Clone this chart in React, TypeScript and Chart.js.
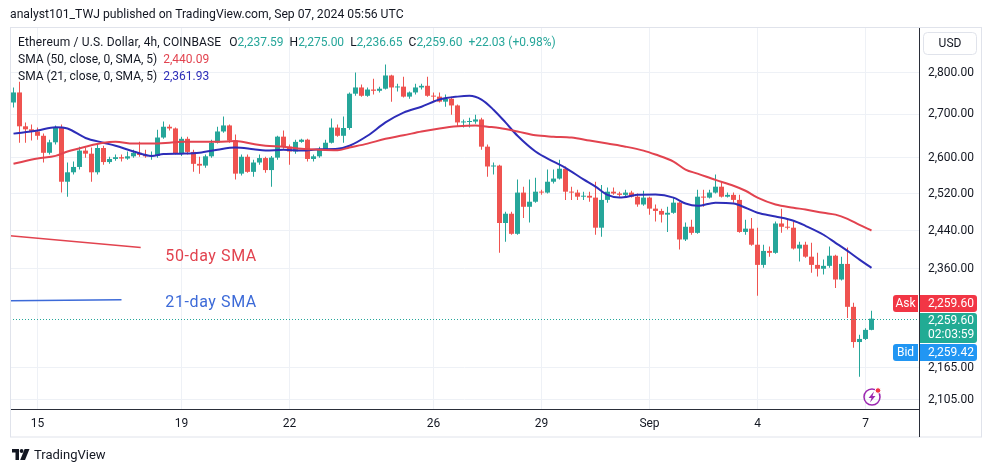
import React, { useEffect, useRef } from "react";
import { Chart, registerables } from "chart.js";

Chart.register(...registerables);

const FONT = "Roboto, 'Liberation Sans', Arial, sans-serif";
const TEXT = "#131722";
const UP = "#26a69a";
const DOWN = "#ef5350";
const SMA50_COLOR = "#e2434f";
const SMA21_COLOR = "#2d2db8";
const NOTE_RED = "#e2434f";
const NOTE_BLUE = "#3c6ad8";
const GRID = "#eef1f6";
const AXIS = "#2a2e39";
const PANEL = "#e0e3eb";

// ---- 4h candles, ETH/USD, Aug 14 08:00 .. Sep 7 04:00 (index = candle number)
const open = [
  2728, 2752, 2672, 2665, 2660, 2650, 2611, 2635, 2670, 2546,
  2567, 2579, 2616, 2609, 2567, 2622, 2590, 2597, 2601, 2598,
  2603, 2611, 2606, 2603, 2604, 2646, 2671, 2667, 2610, 2643,
  2613, 2586, 2582, 2603, 2634, 2660, 2674, 2639, 2564, 2602,
  2568, 2589, 2599, 2572, 2600, 2648, 2625, 2614, 2636, 2641,
  2597, 2603, 2619, 2634, 2669, 2650, 2668, 2749, 2764, 2744,
  2759, 2756, 2761, 2793, 2764, 2766, 2742, 2752, 2764, 2768,
  2744, 2742, 2730, 2737, 2721, 2681, 2682, 2683, 2688, 2625,
  2580, 2582, 2456, 2476, 2433, 2522, 2491, 2502, 2524, 2522,
  2546, 2553, 2575, 2524, 2522, 2513, 2515, 2511, 2446, 2506,
  2524, 2520, 2517, 2522, 2513, 2496, 2511, 2487, 2482, 2474,
  2478, 2500, 2421, 2448, 2435, 2513, 2511, 2522, 2535, 2513,
  2517, 2506, 2437, 2444, 2410, 2368, 2397, 2393, 2455, 2448,
  2446, 2402, 2410, 2385, 2368, 2360, 2366, 2387, 2338, 2370,
  2283, 2214, 2220, 2237.59,
];
const high = [
  2764, 2778, 2681, 2676, 2669, 2655, 2641, 2674, 2676, 2589,
  2591, 2625, 2623, 2623, 2630, 2627, 2602, 2607, 2607, 2614,
  2618, 2636, 2618, 2614, 2664, 2683, 2676, 2669, 2648, 2648,
  2618, 2602, 2607, 2641, 2671, 2695, 2676, 2653, 2607, 2607,
  2595, 2607, 2602, 2604, 2650, 2662, 2630, 2641, 2643, 2643,
  2607, 2625, 2641, 2690, 2676, 2695, 2752, 2800, 2771, 2764,
  2785, 2766, 2820, 2795, 2773, 2790, 2754, 2773, 2773, 2790,
  2752, 2752, 2747, 2742, 2723, 2688, 2692, 2699, 2692, 2630,
  2589, 2584, 2480, 2480, 2551, 2535, 2551, 2555, 2528, 2573,
  2573, 2595, 2580, 2535, 2528, 2524, 2524, 2546, 2539, 2533,
  2533, 2524, 2528, 2526, 2520, 2526, 2513, 2496, 2487, 2491,
  2511, 2502, 2457, 2463, 2528, 2528, 2528, 2562, 2546, 2522,
  2522, 2517, 2463, 2467, 2446, 2410, 2406, 2459, 2487, 2467,
  2459, 2416, 2416, 2414, 2393, 2379, 2406, 2389, 2385, 2404,
  2291, 2228, 2241, 2275,
];
const low = [
  2716, 2634, 2634, 2639, 2641, 2589, 2607, 2630, 2522, 2513,
  2562, 2573, 2600, 2546, 2562, 2584, 2586, 2593, 2591, 2595,
  2600, 2602, 2600, 2595, 2600, 2643, 2662, 2607, 2604, 2607,
  2568, 2564, 2577, 2600, 2632, 2657, 2634, 2551, 2560, 2566,
  2557, 2584, 2566, 2535, 2595, 2620, 2584, 2609, 2634, 2591,
  2591, 2600, 2616, 2632, 2648, 2634, 2664, 2744, 2742, 2742,
  2747, 2752, 2759, 2730, 2754, 2740, 2737, 2747, 2759, 2742,
  2730, 2728, 2718, 2699, 2671, 2669, 2669, 2678, 2618, 2557,
  2562, 2393, 2416, 2431, 2431, 2467, 2457, 2500, 2517, 2520,
  2542, 2551, 2506, 2506, 2506, 2506, 2502, 2431, 2427, 2500,
  2517, 2513, 2511, 2511, 2491, 2493, 2474, 2459, 2457, 2437,
  2476, 2400, 2418, 2431, 2433, 2491, 2509, 2520, 2511, 2511,
  2500, 2435, 2431, 2408, 2305, 2362, 2385, 2391, 2435, 2442,
  2400, 2375, 2383, 2352, 2344, 2348, 2362, 2321, 2336, 2261,
  2203, 2148, 2218, 2236.65,
];
const close = [
  2752, 2672, 2665, 2660, 2650, 2611, 2635, 2670, 2546, 2567,
  2579, 2616, 2609, 2567, 2622, 2590, 2597, 2601, 2598, 2603,
  2611, 2606, 2603, 2604, 2646, 2671, 2667, 2610, 2643, 2613,
  2586, 2582, 2603, 2634, 2660, 2674, 2639, 2564, 2602, 2568,
  2589, 2599, 2572, 2600, 2648, 2625, 2614, 2636, 2641, 2597,
  2603, 2619, 2634, 2669, 2650, 2668, 2749, 2764, 2744, 2759,
  2756, 2761, 2793, 2764, 2766, 2742, 2752, 2764, 2768, 2744,
  2742, 2730, 2737, 2721, 2681, 2682, 2683, 2688, 2625, 2580,
  2582, 2456, 2476, 2433, 2522, 2491, 2502, 2524, 2522, 2546,
  2553, 2575, 2524, 2522, 2513, 2515, 2511, 2446, 2506, 2524,
  2520, 2517, 2522, 2513, 2496, 2511, 2487, 2482, 2474, 2478,
  2500, 2421, 2448, 2435, 2513, 2511, 2522, 2535, 2513, 2517,
  2506, 2437, 2444, 2410, 2368, 2397, 2393, 2455, 2448, 2446,
  2402, 2410, 2385, 2368, 2360, 2366, 2387, 2338, 2370, 2283,
  2214, 2220, 2237.59, 2259.6,
];

// ---- moving averages (candle index, price)
const sma50Idx = [0, 4, 7, 9, 12, 15, 17, 20, 23, 26, 28, 31, 34, 37, 40, 42, 45, 48, 51, 54, 56, 59, 62, 65, 68, 71, 74, 77, 79, 81, 84, 87, 90, 93, 96, 99, 102, 105, 107, 110, 112, 114, 117, 120, 122, 124, 127, 130, 132, 135, 137, 139, 141, 143];
const sma50Val = [2586, 2598, 2604, 2614, 2625, 2634, 2636, 2632, 2632, 2634, 2636, 2636, 2636, 2638, 2631, 2627, 2625, 2620, 2618, 2617, 2623, 2632, 2643, 2651, 2660, 2667, 2672, 2674, 2671, 2668, 2660, 2651, 2648, 2646, 2639, 2632, 2625, 2616, 2607, 2591, 2573, 2564, 2550, 2537, 2526, 2511, 2496, 2489, 2485, 2478, 2474, 2465, 2452, 2440.09];
const sma21Idx = [0, 4, 7, 9, 12, 15, 17, 20, 23, 25, 28, 31, 34, 37, 40, 42, 45, 48, 51, 54, 56, 59, 62, 65, 68, 71, 74, 76, 78, 80, 82, 84, 87, 90, 92, 95, 97, 99, 101, 104, 107, 110, 112, 114, 117, 120, 122, 124, 127, 130, 132, 135, 137, 139, 141, 143];
const sma21Val = [2655, 2662, 2670, 2667, 2645, 2634, 2627, 2614, 2604, 2608, 2609, 2611, 2618, 2623, 2619, 2616, 2618, 2616, 2619, 2620, 2627, 2650, 2681, 2704, 2718, 2735, 2742, 2744, 2735, 2711, 2681, 2650, 2614, 2591, 2577, 2551, 2535, 2517, 2511, 2517, 2518, 2511, 2498, 2493, 2500, 2498, 2489, 2478, 2470, 2461, 2450, 2431, 2414, 2397, 2379, 2361.93];

// ---- hand-drawn annotations (candle index, price)
const note50X = [-0.6, 21.2];
const note50Y = [2429, 2404];
const note21X = [-0.6, 18];
const note21Y = [2295, 2297];
const noteLabels = ["50-day SMA", "21-day SMA"];
const noteLabelX = [25.3, 25.3];
const noteLabelY = [2385, 2291];

// ---- axes
const yTicks = [2105, 2165, 2360, 2440, 2520, 2600, 2700, 2800];
const xTickIdx = [4, 28, 46, 70, 88, 106, 124, 142];
const xTickLabels = ["15", "19", "22", "26", "29", "Sep", "4", "7"];

// ---- quote box
const askPrice = 2259.6;
const bidPrice = 2259.42;
const countdown = "02:03:59";
const changeText = "+22.03 (+0.98%)";

const X_MIN = -0.5833;
const X_MAX = 150.9167;
const Y_MIN = 2088.5;
const Y_MAX = 2911;

const fmt = (v: number) =>
  v.toLocaleString("en-US", { minimumFractionDigits: 2, maximumFractionDigits: 2 });

const candleColors = close.map((c, i) => (c >= open[i] ? UP : DOWN));

const overlayPlugin = {
  id: "tvOverlay",
  afterDatasetsDraw(chart: any) {
    const { ctx, chartArea, scales } = chart;
    const x = scales.x;
    const y = scales.y;
    ctx.save();
    // last price dotted line
    const py = Math.round(y.getPixelForValue(close[close.length - 1])) + 0.5;
    ctx.strokeStyle = UP;
    ctx.lineWidth = 1;
    ctx.setLineDash([1, 2]);
    ctx.beginPath();
    ctx.moveTo(chartArea.left, py);
    ctx.lineTo(chartArea.right, py);
    ctx.stroke();
    ctx.setLineDash([]);
    // annotation labels
    ctx.font = `16px ${FONT}`;
    try {
      (ctx as any).letterSpacing = "0.6px";
    } catch (e) {}
    ctx.textBaseline = "middle";
    ctx.textAlign = "left";
    noteLabels.forEach((t, i) => {
      ctx.fillStyle = i === 0 ? NOTE_RED : NOTE_BLUE;
      ctx.fillText(t, x.getPixelForValue(noteLabelX[i]), y.getPixelForValue(noteLabelY[i]));
    });
    try {
      (ctx as any).letterSpacing = "0px";
    } catch (e) {}
    ctx.restore();
  },
  afterDraw(chart: any) {
    const { ctx, chartArea, scales } = chart;
    const x = scales.x;
    const y = scales.y;
    const axL = y.left;
    const xb = x.bottom;
    ctx.save();
    // panel frame
    ctx.strokeStyle = PANEL;
    ctx.lineWidth = 1;
    ctx.strokeRect(chartArea.left + 0.5, chartArea.top - 0.5, 971, xb - chartArea.top + 0.5);
    // axis line extension
    ctx.strokeStyle = AXIS;
    ctx.beginPath();
    ctx.moveTo(axL + 0.5, chartArea.bottom);
    ctx.lineTo(axL + 0.5, xb);
    ctx.stroke();
    // USD box
    ctx.fillStyle = "#fff";
    ctx.strokeStyle = PANEL;
    ctx.beginPath();
    ctx.roundRect(axL + 4.5, chartArea.top + 4.5, 53, 22, 4);
    ctx.fill();
    ctx.stroke();
    ctx.fillStyle = TEXT;
    ctx.font = `12px ${FONT}`;
    ctx.textAlign = "center";
    ctx.textBaseline = "middle";
    ctx.fillText("USD", axL + 31, chartArea.top + 16);

    // price labels
    const py = Math.round(y.getPixelForValue(close[close.length - 1]));
    const gTop = py - 6;
    const boxL = axL + 1;
    const boxW = 57;
    ctx.fillStyle = "#f23645";
    ctx.beginPath();
    ctx.roundRect(axL - 26, gTop - 18, 25, 17, [3, 0, 0, 3]);
    ctx.fill();
    ctx.beginPath();
    ctx.roundRect(boxL, gTop - 18, boxW, 17, [0, 3, 3, 0]);
    ctx.fill();
    ctx.fillStyle = "#22ab94";
    ctx.beginPath();
    ctx.roundRect(boxL, gTop, boxW, 30, [0, 3, 3, 0]);
    ctx.fill();
    ctx.fillStyle = "#2196f3";
    ctx.beginPath();
    ctx.roundRect(axL - 26, gTop + 31, 25, 17, [3, 0, 0, 3]);
    ctx.fill();
    ctx.beginPath();
    ctx.roundRect(boxL, gTop + 31, boxW, 17, [0, 3, 3, 0]);
    ctx.fill();

    ctx.fillStyle = "#fff";
    ctx.font = `12px ${FONT}`;
    ctx.textAlign = "center";
    ctx.fillText("Ask", axL - 13.5, gTop - 9.5);
    ctx.fillText("Bid", axL - 13.5, gTop + 39.5);
    ctx.textAlign = "left";
    const tx = axL + 9;
    ctx.fillText(fmt(askPrice), tx, gTop - 9.5);
    ctx.fillText(fmt(close[close.length - 1]), tx, gTop + 8);
    ctx.fillText(countdown, tx, gTop + 22);
    ctx.fillText(fmt(bidPrice), tx, gTop + 39.5);

    // lightning badge
    const cx = Math.round(x.getPixelForValue(close.length - 1)) + 1;
    const cy = chartArea.bottom - 12;
    ctx.strokeStyle = "#9c27b0";
    ctx.lineWidth = 1.5;
    ctx.beginPath();
    ctx.arc(cx, cy, 8, 0, Math.PI * 2);
    ctx.stroke();
    ctx.fillStyle = "#9c27b0";
    ctx.beginPath();
    ctx.moveTo(cx + 2, cy - 5.5);
    ctx.lineTo(cx - 3.5, cy + 1);
    ctx.lineTo(cx - 0.5, cy + 1);
    ctx.lineTo(cx - 2, cy + 5.5);
    ctx.lineTo(cx + 3.5, cy - 1);
    ctx.lineTo(cx + 0.5, cy - 1);
    ctx.closePath();
    ctx.fill();
    ctx.fillStyle = "#f23645";
    ctx.strokeStyle = "#fff";
    ctx.lineWidth = 1;
    ctx.beginPath();
    ctx.arc(cx + 6, cy - 6.5, 2.8, 0, Math.PI * 2);
    ctx.fill();
    ctx.stroke();
    ctx.restore();
  },
};

export default function App() {
  const ref = useRef<HTMLCanvasElement>(null);

  useEffect(() => {
    const canvas = ref.current;
    if (!canvas) return;
    Chart.defaults.font.family = FONT;
    const chart = new Chart(canvas, {
      type: "bar",
      data: {
        datasets: [
          {
            type: "line",
            label: "SMA 50",
            data: sma50Idx.map((v, i) => ({ x: v, y: sma50Val[i] })),
            borderColor: SMA50_COLOR,
            borderWidth: 2,
            pointRadius: 0,
            cubicInterpolationMode: "monotone",
            order: 0,
          } as any,
          {
            type: "line",
            label: "SMA 21",
            data: sma21Idx.map((v, i) => ({ x: v, y: sma21Val[i] })),
            borderColor: SMA21_COLOR,
            borderWidth: 2,
            pointRadius: 0,
            cubicInterpolationMode: "monotone",
            order: 0,
          } as any,
          {
            type: "line",
            label: "50-day note",
            data: note50X.map((v, i) => ({ x: v, y: note50Y[i] })),
            borderColor: NOTE_RED,
            borderWidth: 1.5,
            pointRadius: 0,
            order: 0,
          } as any,
          {
            type: "line",
            label: "21-day note",
            data: note21X.map((v, i) => ({ x: v, y: note21Y[i] })),
            borderColor: NOTE_BLUE,
            borderWidth: 1.5,
            pointRadius: 0,
            order: 0,
          } as any,
          {
            type: "bar",
            label: "body",
            data: open.map((o, i) => ({ x: i, y: [o, close[i]] })),
            backgroundColor: candleColors,
            barThickness: 5,
            minBarLength: 1,
            grouped: false,
            inflateAmount: 0,
            order: 1,
          } as any,
          {
            type: "bar",
            label: "wick",
            data: low.map((l, i) => ({ x: i, y: [l, high[i]] })),
            backgroundColor: candleColors,
            barThickness: 1,
            grouped: false,
            inflateAmount: 0,
            order: 2,
          } as any,
        ],
      },
      options: {
        animation: false,
        responsive: false,
        devicePixelRatio: 1,
        layout: { padding: { left: 10, top: 28, right: 16, bottom: 35 } },
        plugins: { legend: { display: false }, tooltip: { enabled: false } },
        scales: {
          x: {
            type: "linear",
            min: X_MIN,
            max: X_MAX,
            offset: false,
            afterBuildTicks: (s: any) => {
              s.ticks = xTickIdx.map((v) => ({ value: v }));
            },
            afterFit: (s: any) => {
              s.height = 28;
            },
            ticks: {
              autoSkip: false,
              maxRotation: 0,
              padding: 8,
              color: TEXT,
              font: { family: FONT, size: 12 },
              callback: (v: any) => {
                const k = xTickIdx.indexOf(Number(v));
                return k >= 0 ? xTickLabels[k] : "";
              },
            },
            grid: { color: GRID, drawTicks: false, offset: false },
            border: { color: AXIS },
          },
          y: {
            type: "logarithmic",
            position: "right",
            min: Y_MIN,
            max: Y_MAX,
            afterBuildTicks: (s: any) => {
              s.ticks = yTicks.map((v) => ({ value: v }));
            },
            afterFit: (s: any) => {
              s.width = 56;
            },
            ticks: {
              padding: 9,
              color: TEXT,
              font: { family: FONT, size: 12 },
              callback: (v: any) => fmt(Number(v)),
            },
            grid: { color: GRID, drawTicks: false },
            border: { color: AXIS },
          },
        },
      } as any,
      plugins: [overlayPlugin],
    });
    return () => chart.destroy();
  }, []);

  const last = close.length - 1;
  const green = { color: UP };
  const lbl = { marginLeft: 6 };

  return (
    <div
      style={{
        position: "fixed",
        left: 0,
        top: 0,
        width: 991,
        height: 472,
        background: "#fff",
        overflow: "hidden",
        fontFamily: FONT,
        color: TEXT,
      }}
    >
      <canvas
        ref={ref}
        width={991}
        height={472}
        style={{ position: "absolute", left: 0, top: 0, width: 991, height: 472 }}
      />
      <div style={{ position: "absolute", left: 10, top: 7, fontSize: 12.2, whiteSpace: "nowrap" }}>
        analyst101_TWJ published on TradingView.com, Sep 07, 2024 05:56 UTC
      </div>
      <div
        style={{
          position: "absolute",
          left: 18,
          top: 34,
          fontSize: 12,
          lineHeight: "17px",
          whiteSpace: "nowrap",
        }}
      >
        <div>
          <span style={{ letterSpacing: "0.15px" }}>Ethereum / U.S. Dollar, 4h, COINBASE</span>
          <span style={{ marginLeft: 8 }}>O</span>
          <span style={green}>{fmt(open[last])}</span>
          <span style={lbl}>H</span>
          <span style={green}>{fmt(high[last])}</span>
          <span style={lbl}>L</span>
          <span style={green}>{fmt(low[last])}</span>
          <span style={lbl}>C</span>
          <span style={green}>{fmt(close[last])}</span>
          <span style={{ ...green, marginLeft: 6 }}>{changeText}</span>
        </div>
        <div>
          SMA (50, close, 0, SMA, 5)
          <span style={{ color: SMA50_COLOR, marginLeft: 6 }}>{fmt(sma50Val[sma50Val.length - 1])}</span>
        </div>
        <div>
          SMA (21, close, 0, SMA, 5)
          <span style={{ color: SMA21_COLOR, marginLeft: 6 }}>{fmt(sma21Val[sma21Val.length - 1])}</span>
        </div>
      </div>
      <div
        style={{
          position: "absolute",
          left: 12,
          top: 447,
          display: "flex",
          alignItems: "center",
          gap: 4,
          fontSize: 13,
          color: TEXT,
        }}
      >
        <svg width="18" height="12" viewBox="0 0 18 12">
          <path d="M0 0 H7 V11 H3.5 V3.5 H0 Z" fill={TEXT} />
          <circle cx="9.6" cy="2" r="1.9" fill={TEXT} />
          <path d="M12.6 0 H17.5 L13 11 H8.2 Z" fill={TEXT} />
        </svg>
        <span>TradingView</span>
      </div>
    </div>
  );
}
